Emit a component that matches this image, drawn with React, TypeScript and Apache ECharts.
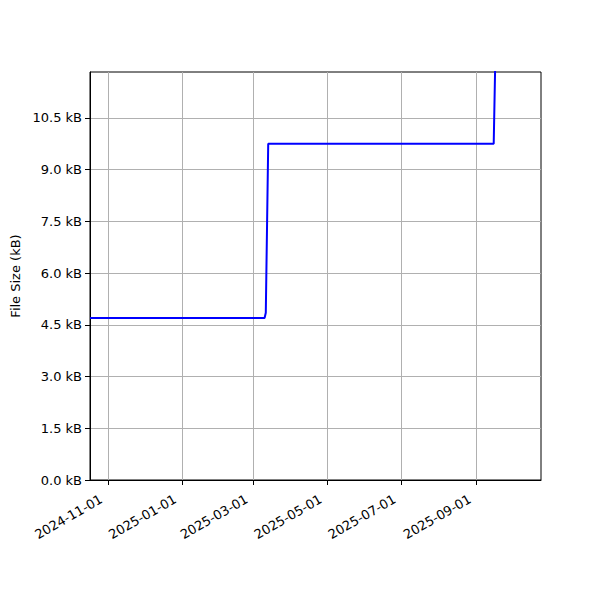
import React, { useEffect, useRef } from 'react';
import * as echarts from 'echarts';

// file size history (kB)
const dates = ['2024-10-17', '2025-03-10', '2025-03-11', '2025-03-13', '2025-09-15', '2025-09-17'];
const sizes = [4.7, 4.7, 4.85, 9.75, 9.75, 13.5];

const xTicks = ['2024-11-01', '2025-01-01', '2025-03-01', '2025-05-01', '2025-07-01', '2025-09-01'];
const yTicks = [0, 1.5, 3.0, 4.5, 6.0, 7.5, 9.0, 10.5];

const xMin = '2024-10-17';
const xMax = '2025-10-24';
const yMax = 11.83;

const FONT = '"DejaVu Sans", sans-serif';

const fmtDate = (v: number) => {
  const d = new Date(v);
  const mm = String(d.getUTCMonth() + 1).padStart(2, '0');
  const dd = String(d.getUTCDate()).padStart(2, '0');
  return `${d.getUTCFullYear()}-${mm}-${dd}`;
};

export default function App() {
  const chartRef = useRef<HTMLDivElement>(null);

  useEffect(() => {
    if (!chartRef.current) return;
    const chart = echarts.init(chartRef.current, null, { renderer: 'svg' });

    const tickMs = xTicks.map(d => Date.parse(d));

    chart.setOption({
      animation: false,
      backgroundColor: '#ffffff',
      grid: {
        left: 90,
        right: 59,
        top: 72,
        bottom: 120,
        show: true,
        borderColor: '#000',
        borderWidth: 1,
        backgroundColor: 'transparent'
      },
      xAxis: {
        type: 'value',
        min: Date.parse(xMin),
        max: Date.parse(xMax),
        axisLine: { show: true, onZero: false, lineStyle: { color: '#000', width: 1 } },
        axisTick: { show: true, customValues: tickMs, length: 5, lineStyle: { color: '#000' } },
        axisLabel: {
          customValues: tickMs,
          rotate: 30,
          align: 'right',
          verticalAlign: 'middle',
          margin: 14,
          padding: [0, 8, 0, 0],
          color: '#000',
          fontFamily: FONT,
          fontSize: 13,
          formatter: (v: number) => fmtDate(v)
        },
        splitLine: { show: true, lineStyle: { color: '#b0b0b0', width: 1 } }
      },
      yAxis: {
        type: 'value',
        min: 0,
        max: yMax,
        name: 'File Size (kB)',
        nameLocation: 'middle',
        nameGap: 67,
        nameTextStyle: { color: '#000', fontFamily: FONT, fontSize: 13 },
        axisLine: { show: true, lineStyle: { color: '#000', width: 1 } },
        axisTick: { show: true, customValues: yTicks, length: 5, lineStyle: { color: '#000' } },
        axisLabel: {
          customValues: yTicks,
          margin: 8,
          color: '#000',
          fontFamily: FONT,
          fontSize: 13,
          formatter: (v: number) => `${v.toFixed(1)} kB`
        },
        splitLine: { show: true, lineStyle: { color: '#b0b0b0', width: 1 } }
      },
      series: [
        {
          type: 'line',
          data: dates.map((d, i) => [Date.parse(d), sizes[i]]),
          showSymbol: false,
          clip: true,
          lineStyle: { color: '#0000ff', width: 2 },
          itemStyle: { color: '#0000ff' }
        }
      ]
    });

    return () => {
      chart.dispose();
    };
  }, []);

  return (
    <div
      ref={chartRef}
      style={{ position: 'fixed', left: 0, top: 0, width: '600px', height: '600px' }}
    />
  );
}
